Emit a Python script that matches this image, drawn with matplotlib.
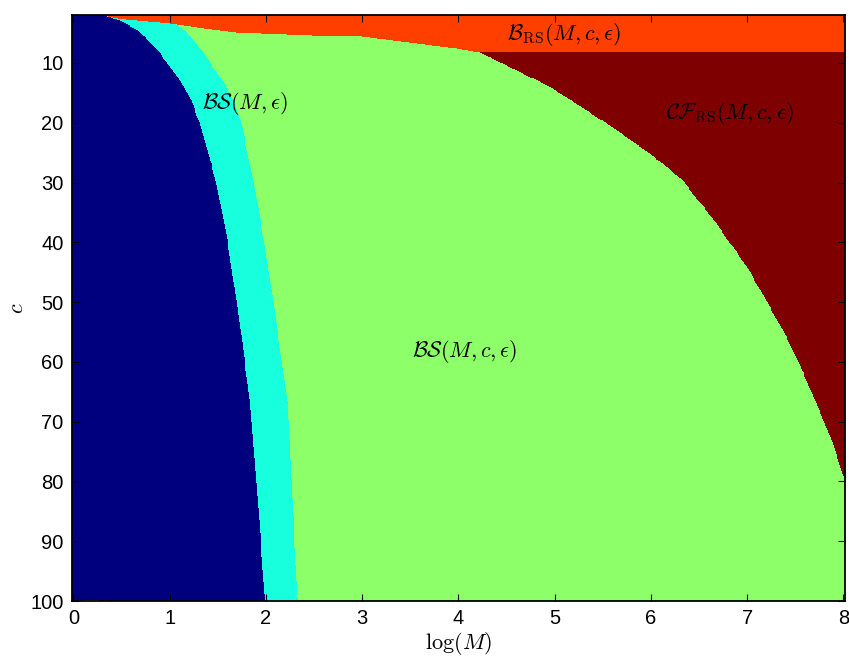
import numpy as np
import matplotlib
matplotlib.use("Agg")
import matplotlib.pyplot as plt

# Region boundaries in the (log M, c) plane, as (c, log M) knots
blue_c = [2.0, 2.8, 4.5, 6.2, 7.8, 9.5, 13.0, 16.2, 20.0, 30.0, 40.0, 49.6, 66.4, 83.1, 100.0]
blue_logM = [0.31, 0.48, 0.67, 0.77, 0.87, 0.95, 1.11, 1.22, 1.31, 1.48, 1.60, 1.69, 1.83, 1.91, 1.99]

cyan_c = [2.0, 3.6, 4.5, 6.2, 7.8, 9.5, 13.0, 16.2, 20.0, 30.0, 40.0, 49.6, 66.4, 83.1, 100.0]
cyan_logM = [0.9, 1.07, 1.16, 1.24, 1.33, 1.40, 1.55, 1.66, 1.74, 1.87, 1.98, 2.07, 2.22, 2.27, 2.33]

cf_c = [8.2, 11.2, 14.0, 17.4, 21.2, 25.1, 29.6, 36.8, 44.6, 54.6, 60.2, 66.9, 73.5, 78.6, 100.0]
cf_logM = [4.22, 4.61, 4.95, 5.29, 5.64, 5.99, 6.33, 6.68, 7.02, 7.37, 7.54, 7.72, 7.89, 7.99, 8.6]

# lower edge of the B_RS strip along the top
brs_logM = [0.0, 0.30, 0.50, 1.00, 1.34, 1.70, 2.04, 3.00, 3.84, 4.00, 4.20, 8.10]
brs_c = [2.0, 2.0, 2.6, 3.3, 4.1, 4.8, 5.0, 5.6, 7.3, 7.6, 8.2, 8.2]

# stray cells in the last row near log M = 0
last_row_edges = [0.05, 0.12, 0.19, 0.26, 0.34]
last_row_vals = [0.30, 0.50, 0.70, 0.90]

# colour level of each region on the jet scale
val_bs_eps = 0.0
val_band = 0.38
val_bs_c = 0.52
val_brs = 0.84
val_cf = 1.0

labels = [
    (1.78, 16.7, r'$\mathcal{BS}(M,\epsilon)$'),
    (4.07, 58.3, r'$\mathcal{BS}(M,c,\epsilon)$'),
    (5.10, 5.3, r'$\mathcal{B}_{\rm RS}(M,c,\epsilon)$'),
    (6.82, 18.4, r'$\mathcal{CF}_{\rm RS}(M,c,\epsilon)$'),
]

x0, x1, y0, y1 = -0.015, 8.015, 2.0, 100.0
nx, ny = 820, 600
logM = np.linspace(x0, x1, nx)
c = np.linspace(y0, y1, ny)
X, C = np.meshgrid(logM, c)

b1 = np.interp(C, blue_c, blue_logM)
b2 = np.interp(C, cyan_c, cyan_logM)
b3 = np.interp(C, cf_c, cf_logM)
top = np.interp(X, brs_logM, brs_c)

Z = np.full(X.shape, val_bs_c)
Z[X >= b3] = val_cf
Z[X < b2] = val_band
Z[X < b1] = val_bs_eps
Z[C < top] = val_brs
for lo, hi, v in zip(last_row_edges[:-1], last_row_edges[1:], last_row_vals):
    Z[-1, (logM >= lo) & (logM < hi)] = v

plt.rcParams['mathtext.fontset'] = 'cm'
plt.rcParams['font.family'] = ['Liberation Sans', 'DejaVu Sans']

fig = plt.figure(figsize=(8.49, 6.59), dpi=100)
ax = fig.add_axes([0.0848, 0.088, 0.9102, 0.889])
ax.imshow(Z, cmap='jet', vmin=0, vmax=1, aspect='auto', interpolation='nearest',
          extent=[x0, x1, y1, y0], origin='upper')
ax.set_xlim(x0, x1)
ax.set_ylim(y1, y0)
ax.set_xticks(range(0, 9))
ax.set_yticks(range(10, 101, 10))
ax.tick_params(direction='in', top=True, right=True, labelsize=14.5, length=5, pad=6)
for s in ax.spines.values():
    s.set_linewidth(1.3)

for x, y, t in labels:
    ax.text(x, y, t, fontsize=16, ha='center', va='center')

ax.set_xlabel(r'$\log(M)$', fontsize=16, labelpad=1)
ax.set_ylabel(r'$c$', fontsize=16, labelpad=2)

fig.savefig('out.png', dpi=100)
